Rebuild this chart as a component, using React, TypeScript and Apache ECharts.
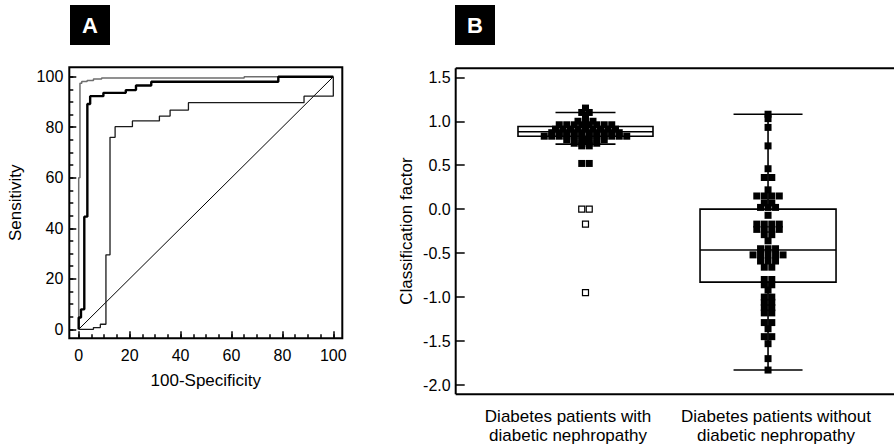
import React, { useEffect, useRef } from "react";
import * as echarts from "echarts";

// ---------- Panel A: ROC curves (x = 100-Specificity, y = Sensitivity) ----------
const rocTicks = [0, 20, 40, 60, 80, 100];
const rocMinorTicks = [0, 5, 10, 15, 20, 25, 30, 35, 40, 45, 50, 55, 60, 65, 70, 75, 80, 85, 90, 95, 100];
const rocTop: number[][] = [
  [0, 0], [0, 60], [0.5, 60], [0.5, 97.4], [1.2, 97.4], [1.2, 98.1], [3.3, 98.1], [3.3, 98.5],
  [5.8, 98.5], [5.8, 99.1], [9, 99.1], [9, 99.5], [65, 99.5], [65, 100], [100, 100],
];
const rocMiddle: number[][] = [
  [0, 0], [0, 4.7], [0.9, 4.7], [0.9, 7.9], [2.2, 7.9], [2.2, 44.6], [3.4, 44.6], [3.4, 89.2],
  [4.5, 89.2], [4.5, 92.3], [9.7, 92.3], [9.7, 93.6], [18.5, 93.6], [18.5, 94.7], [22.5, 94.7],
  [22.5, 96.5], [28.5, 96.5], [28.5, 98], [78.4, 98], [78.4, 100], [100, 100],
];
const rocLow: number[][] = [
  [0, 0], [5.8, 0], [5.8, 0.7], [8.5, 0.7], [8.5, 2], [10.7, 2], [10.7, 29.5], [12.3, 29.5],
  [12.3, 76], [14.3, 76], [14.3, 80.2], [21.1, 80.2], [21.1, 82.5], [31.7, 82.5], [31.7, 84.4],
  [35.9, 84.4], [35.9, 86.8], [43.1, 86.8], [43.1, 89.7], [88.5, 89.7], [88.5, 92.3], [100, 92.3],
  [100, 100],
];
const rocDiagonal: number[][] = [[0, 0], [100, 100]];
// axis extents of the frame around panel A
const rocXRange = [-3.69, 103.53];
const rocYRange = [-3.56, 103.72];

// ---------- Panel B: classification factor ----------
const categories = [
  "Diabetes patients with\ndiabetic nephropathy",
  "Diabetes patients without\ndiabetic nephropathy",
];
const groupX = [1, 2];
// [lower whisker, Q1, median, Q3, upper whisker]
const boxStats = [
  [0.74, 0.83, 0.88, 0.94, 1.1],
  [-1.83, -0.83, -0.465, 0.0, 1.08],
];
const bTicks = [-2.0, -1.5, -1.0, -0.5, 0.0, 0.5, 1.0, 1.5];

const withDN = [
  1.15,
  1.1, 1.1,
  1.05,
  1.0, 1.0, 1.0,
  0.96, 0.96, 0.96, 0.96, 0.96, 0.96, 0.96, 0.96,
  0.91, 0.91, 0.91, 0.91, 0.91, 0.91, 0.91, 0.91, 0.91,
  0.87, 0.87, 0.87, 0.87, 0.87, 0.87, 0.87, 0.87, 0.87, 0.87,
  0.83, 0.83, 0.83, 0.83, 0.83, 0.83, 0.83, 0.83, 0.83, 0.83, 0.83, 0.83,
  0.79, 0.79, 0.79, 0.79, 0.79, 0.79,
  0.75, 0.75, 0.75, 0.75,
  0.72, 0.72,
  0.52, 0.52,
];
const withDNOutliers = [0.0, 0.0, -0.17, -0.95];
const withoutDN = [
  1.08, 1.03, 0.93, 0.72, 0.46,
  0.36, 0.36,
  0.22,
  0.15, 0.15, 0.15, 0.15,
  0.07, 0.07,
  0.02, 0.02, 0.02,
  -0.07,
  -0.17, -0.17, -0.17, -0.17,
  -0.23, -0.23, -0.23, -0.23,
  -0.29, -0.29,
  -0.36,
  -0.45, -0.45, -0.45,
  -0.52, -0.52, -0.52, -0.52, -0.52,
  -0.59, -0.59, -0.59,
  -0.66, -0.66,
  -0.8, -0.8,
  -0.86, -0.86,
  -0.92,
  -1.0, -1.0,
  -1.06, -1.06,
  -1.12, -1.12,
  -1.18, -1.18,
  -1.29, -1.29,
  -1.36,
  -1.45, -1.45,
  -1.53,
  -1.7,
  -1.83,
];

// ---------- styles ----------
const FONT = "'Liberation Sans', Arial, Helvetica, sans-serif";
const BOX_W = [135, 136];
const CAP_W = [60, 69];
const DOT = 7;
const DOT_GAP = 7.5;

// spread equal values side by side in a row, centred on the group
function rowItems(values: number[], gx: number) {
  const counts: Record<string, number> = {};
  values.forEach((v) => (counts[v] = (counts[v] || 0) + 1));
  const seen: Record<string, number> = {};
  return values.map((v) => {
    const n = counts[v];
    const i = seen[v] || 0;
    seen[v] = i + 1;
    return { value: [gx, v], symbolOffset: [(i - (n - 1) / 2) * DOT_GAP, 0] };
  });
}

export default function App() {
  const ref = useRef<HTMLDivElement>(null);

  useEffect(() => {
    document.body.style.margin = "0";
    if (!ref.current) return;
    const chart = echarts.init(ref.current, undefined, { renderer: "svg" });

    const axisText = { color: "#000", fontFamily: FONT, fontSize: 16 };
    const tickLine = { color: "#000", width: 1.5 };

    const rocMinorAxis = (range: number[], position: string) => ({
      gridIndex: 0,
      type: "value",
      position,
      min: range[0],
      max: range[1],
      axisLine: { show: false, onZero: false },
      axisTick: { show: true, inside: true, length: 4, customValues: rocMinorTicks, lineStyle: tickLine },
      axisLabel: { show: false },
      splitLine: { show: false },
    });
    const rocMajorAxis = (range: number[], position: string, margin: number) => ({
      gridIndex: 0,
      type: "value",
      position,
      min: range[0],
      max: range[1],
      axisLine: { show: false, onZero: false },
      axisTick: { show: true, inside: true, length: 7, customValues: rocTicks, lineStyle: tickLine },
      axisLabel: { ...axisText, margin, customValues: rocTicks, formatter: (v: number) => String(v) },
      splitLine: { show: false },
      nameLocation: "middle",
      nameTextStyle: { ...axisText, fontSize: 17 },
    });

    const option: any = {
      animation: false,
      backgroundColor: "#fff",
      textStyle: { fontFamily: FONT },
      grid: [
        { left: 69.3, top: 67.3, width: 273, height: 271 },
        { left: 455.7, right: 0, top: 77.3, height: 307.7 },
      ],
      xAxis: [
        rocMinorAxis(rocXRange, "bottom"),
        { ...rocMajorAxis(rocXRange, "bottom", 9), name: "100-Specificity", nameGap: 34 },
        { gridIndex: 1, type: "value", min: 0.289, max: 2.69, show: false, axisLine: { onZero: false } },
      ],
      yAxis: [
        rocMinorAxis(rocYRange, "left"),
        { ...rocMajorAxis(rocYRange, "left", 6), name: "Sensitivity", nameGap: 45 },
        {
          gridIndex: 1,
          type: "value",
          position: "left",
          min: bTicks[0],
          max: bTicks[bTicks.length - 1],
          interval: 0.5,
          axisLine: { show: false, onZero: false },
          axisTick: { show: true, inside: true, length: 9, lineStyle: tickLine },
          splitLine: { show: false },
          axisLabel: { ...axisText, margin: 5, formatter: (v: number) => v.toFixed(1) },
          name: "Classification factor",
          nameLocation: "middle",
          nameGap: 41,
          nameTextStyle: { ...axisText, fontSize: 17 },
        },
      ],
      series: [
        {
          type: "line",
          xAxisIndex: 1,
          yAxisIndex: 1,
          data: rocDiagonal,
          symbol: "none",
          lineStyle: { color: "#000", width: 1 },
          z: 2,
        },
        {
          type: "line",
          xAxisIndex: 1,
          yAxisIndex: 1,
          data: rocLow,
          symbol: "none",
          lineStyle: { color: "#1a1a1a", width: 1.3 },
          z: 3,
        },
        {
          type: "line",
          xAxisIndex: 1,
          yAxisIndex: 1,
          data: rocTop,
          symbol: "none",
          lineStyle: { color: "#6e6e6e", width: 1.5 },
          z: 3,
        },
        {
          type: "line",
          xAxisIndex: 1,
          yAxisIndex: 1,
          data: rocMiddle,
          symbol: "none",
          lineStyle: { color: "#000", width: 2.4 },
          z: 4,
        },
        {
          type: "custom",
          xAxisIndex: 2,
          yAxisIndex: 2,
          data: boxStats.map((s, i) => [groupX[i], ...s]),
          encode: { x: 0, y: [1, 2, 3, 4, 5] },
          z: 2,
          renderItem: (params: any, api: any) => {
            const gx = api.value(0);
            const lo = api.coord([gx, api.value(1)]);
            const q1 = api.coord([gx, api.value(2)]);
            const md = api.coord([gx, api.value(3)]);
            const q3 = api.coord([gx, api.value(4)]);
            const hi = api.coord([gx, api.value(5)]);
            const bw = BOX_W[params.dataIndex] / 2;
            const cw = CAP_W[params.dataIndex] / 2;
            const cx = lo[0];
            const st = { stroke: "#000", lineWidth: 1.6, fill: null };
            return {
              type: "group",
              children: [
                { type: "line", shape: { x1: cx, y1: lo[1], x2: cx, y2: hi[1] }, style: st },
                { type: "line", shape: { x1: cx - cw, y1: lo[1], x2: cx + cw, y2: lo[1] }, style: st },
                { type: "line", shape: { x1: cx - cw, y1: hi[1], x2: cx + cw, y2: hi[1] }, style: st },
                {
                  type: "rect",
                  shape: { x: cx - bw, y: q3[1], width: 2 * bw, height: q1[1] - q3[1] },
                  style: { stroke: "#000", lineWidth: 1.6, fill: "#fff" },
                },
                { type: "line", shape: { x1: cx - bw, y1: md[1], x2: cx + bw, y2: md[1] }, style: st },
              ],
            };
          },
        },
        {
          type: "scatter",
          xAxisIndex: 2,
          yAxisIndex: 2,
          symbol: "rect",
          symbolSize: DOT,
          data: [...rowItems(withDN, groupX[0]), ...rowItems(withoutDN, groupX[1])],
          itemStyle: { color: "#000", opacity: 1 },
          z: 5,
        },
        {
          type: "scatter",
          xAxisIndex: 2,
          yAxisIndex: 2,
          symbol: "rect",
          symbolSize: 6,
          data: rowItems(withDNOutliers, groupX[0]),
          itemStyle: { color: "#fff", borderColor: "#000", borderWidth: 1.2, opacity: 1 },
          z: 5,
        },
      ],
      graphic: [
        // Panel A frame
        {
          type: "rect",
          shape: { x: 69.3, y: 67.3, width: 273, height: 271 },
          style: { fill: null, stroke: "#000", lineWidth: 2 },
          z: 10,
        },
        // Panel B axis lines
        {
          type: "line",
          shape: { x1: 455.7, y1: 68.3, x2: 455.7, y2: 394.3 },
          style: { stroke: "#000", lineWidth: 2 },
          z: 10,
        },
        {
          type: "line",
          shape: { x1: 455.7, y1: 68.3, x2: 894, y2: 68.3 },
          style: { stroke: "#000", lineWidth: 2 },
          z: 10,
        },
        {
          type: "line",
          shape: { x1: 455.7, y1: 394.3, x2: 894, y2: 394.3 },
          style: { stroke: "#000", lineWidth: 2 },
          z: 10,
        },
        // Panel letters
        { type: "rect", shape: { x: 70, y: 5, width: 40, height: 40 }, style: { fill: "#000" }, z: 10 },
        {
          type: "text",
          x: 90,
          y: 25.5,
          style: {
            text: "A",
            fill: "#fff",
            font: `bold 22px ${FONT}`,
            textAlign: "center",
            textVerticalAlign: "middle",
          },
          z: 11,
        },
        { type: "rect", shape: { x: 455, y: 5, width: 40, height: 40 }, style: { fill: "#000" }, z: 10 },
        {
          type: "text",
          x: 475,
          y: 25.5,
          style: {
            text: "B",
            fill: "#fff",
            font: `bold 22px ${FONT}`,
            textAlign: "center",
            textVerticalAlign: "middle",
          },
          z: 11,
        },
        // Category labels
        {
          type: "text",
          x: 568,
          y: 407,
          style: {
            text: categories[0],
            fill: "#000",
            font: `17px ${FONT}`,
            lineHeight: 19,
            textAlign: "center",
            textVerticalAlign: "top",
          },
        },
        {
          type: "text",
          x: 776,
          y: 407,
          style: {
            text: categories[1],
            fill: "#000",
            font: `17px ${FONT}`,
            lineHeight: 19,
            textAlign: "center",
            textVerticalAlign: "top",
          },
        },
      ],
    };

    chart.setOption(option);
    return () => chart.dispose();
  }, []);

  return <div ref={ref} style={{ width: 894, height: 448 }} />;
}
